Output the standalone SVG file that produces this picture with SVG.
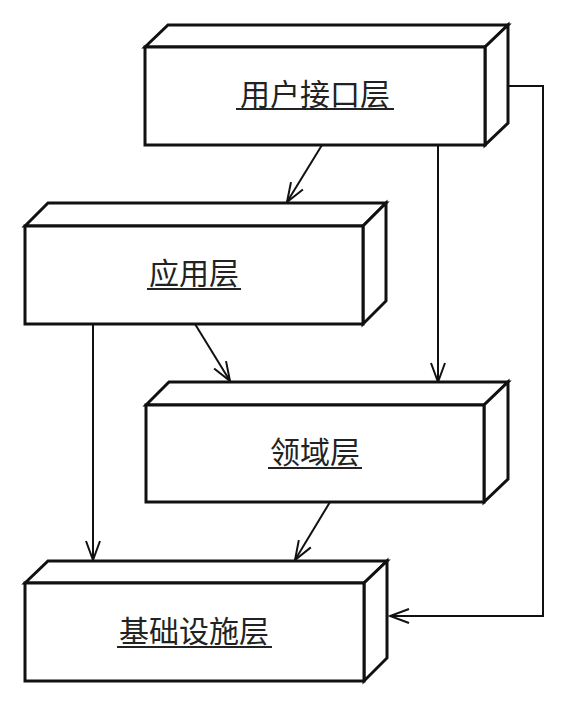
<svg xmlns="http://www.w3.org/2000/svg" width="569" height="703" viewBox="0 0 569 703">
<style>
.box{fill:#fff;stroke:#111;stroke-width:3;stroke-linejoin:miter}
.lbl{font-family:"Noto Sans CJK SC","Noto Sans",sans-serif;font-size:30px;fill:#222;text-anchor:middle}
.ul{stroke:#222;stroke-width:2}
.con{fill:none;stroke:#111;stroke-width:2}
</style>
<defs>
<marker id="arr" markerUnits="userSpaceOnUse" markerWidth="22" markerHeight="18" viewBox="0 0 22 18" refX="20" refY="9" orient="auto">
<path d="M1,2 L20,9 L1,16" fill="none" stroke="#111" stroke-width="2"/>
</marker>
</defs>
<rect width="569" height="703" fill="#fff"/>
<g id="connectors">
<path class="con" d="M322,145 L287,202" marker-end="url(#arr)"/>
<path class="con" d="M438,145 L438,382" marker-end="url(#arr)"/>
<path class="con" d="M508,86 L543,86 L543,616 L390,616" marker-end="url(#arr)"/>
<path class="con" d="M93,324 L93,560" marker-end="url(#arr)"/>
<path class="con" d="M195,324 L230,381" marker-end="url(#arr)"/>
<path class="con" d="M330,502 L295,560" marker-end="url(#arr)"/>
</g>
<g id="ui-layer">
<path class="box" d="M145,47 L168,25 L508,25 L485,47 Z"/>
<path class="box" d="M485,47 L508,25 L508,123 L485,145 Z"/>
<rect class="box" x="145" y="47" width="340" height="98"/>
<text class="lbl" x="315" y="105">用户接口层</text>
<line class="ul" x1="236" y1="109" x2="394" y2="109"/>
</g>
<g id="app-layer">
<path class="box" d="M25,226 L48,203 L386,203 L363,226 Z"/>
<path class="box" d="M363,226 L386,203 L386,301 L363,324 Z"/>
<rect class="box" x="25" y="226" width="338" height="98"/>
<text class="lbl" x="194" y="284">应用层</text>
<line class="ul" x1="147" y1="289" x2="241" y2="289"/>
</g>
<g id="domain-layer">
<path class="box" d="M146,405 L169,382 L508,382 L484,405 Z"/>
<path class="box" d="M484,405 L508,382 L508,479 L484,502 Z"/>
<rect class="box" x="146" y="405" width="338" height="97"/>
<text class="lbl" x="315" y="463">领域层</text>
<line class="ul" x1="268" y1="468" x2="362" y2="468"/>
</g>
<g id="infra-layer">
<path class="box" d="M25,583 L48,561 L387,561 L364,583 Z"/>
<path class="box" d="M364,583 L387,561 L387,658 L364,681 Z"/>
<rect class="box" x="25" y="583" width="339" height="98"/>
<text class="lbl" x="194" y="642">基础设施层</text>
<line class="ul" x1="117" y1="647" x2="272" y2="647"/>
</g>
</svg>
